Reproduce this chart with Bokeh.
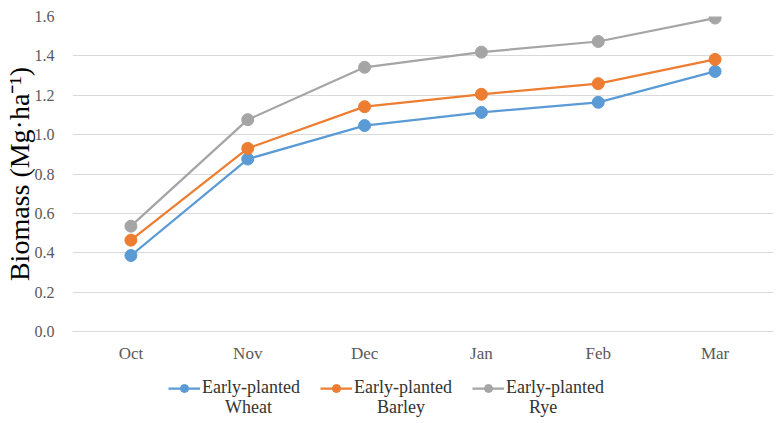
from bokeh.plotting import figure
from bokeh.layouts import column
from bokeh.models import FactorRange, Range1d, SingleIntervalTicker, NumeralTickFormatter, Legend, LegendItem
from bokeh.embed import file_html
from bokeh.resources import INLINE

months = ["Oct", "Nov", "Dec", "Jan", "Feb", "Mar"]
wheat = [0.386, 0.876, 1.046, 1.113, 1.164, 1.321]
barley = [0.464, 0.930, 1.142, 1.205, 1.259, 1.382]
rye = [0.535, 1.076, 1.342, 1.419, 1.473, 1.592]
legend_prefix = "Early-planted"
crop_names = ["Wheat", "Barley", "Rye"]
colors = ["#5B9BD5", "#ED7D31", "#A5A5A5"]

FONT = "Liberation Serif"

p = figure(x_range=FactorRange(*months), y_range=Range1d(0, 1.6),
           frame_width=701, frame_height=315, output_backend="svg", toolbar_location=None,
           min_border_left=72, min_border_right=5, min_border_top=16, min_border_bottom=32)
p.outline_line_color = None
p.background_fill_color = "white"
p.border_fill_color = "white"

for vals, c in zip([wheat, barley, rye], colors):
    p.line(months, vals, line_color=c, line_width=2.25)
    p.scatter(months, vals, size=12, fill_color=c, line_color=c)

p.yaxis.ticker = SingleIntervalTicker(interval=0.2)
p.yaxis.formatter = NumeralTickFormatter(format="0.0")
p.yaxis.axis_line_color = None
p.yaxis.major_tick_line_color = None
p.yaxis.minor_tick_line_color = None
p.yaxis.major_tick_out = 0
p.yaxis.major_tick_in = 0
p.yaxis.major_label_text_font = FONT
p.yaxis.major_label_text_font_size = "16px"
p.yaxis.major_label_text_color = "#595959"
p.yaxis.major_label_standoff = 14
p.yaxis.axis_label = "Biomass (Mg·ha⁻¹)"
p.yaxis.axis_label_text_font = FONT
p.yaxis.axis_label_text_font_size = "28px"
p.yaxis.axis_label_text_font_style = "normal"
p.yaxis.axis_label_text_color = "#000000"
p.yaxis.axis_label_standoff = -3

p.xaxis.axis_line_color = "#D9D9D9"
p.xaxis.major_tick_line_color = None
p.xaxis.minor_tick_line_color = None
p.xaxis.major_tick_out = 0
p.xaxis.major_tick_in = 0
p.xaxis.major_label_text_font = FONT
p.xaxis.major_label_text_font_size = "17px"
p.xaxis.major_label_text_color = "#595959"
p.xaxis.major_label_standoff = 12

p.xgrid.grid_line_color = None
p.ygrid.grid_line_color = "#D9D9D9"
p.ygrid.grid_line_width = 1

# legend figure below the chart
lg = figure(width=778, height=60, x_range=Range1d(0, 1), y_range=Range1d(0, 1),
            output_backend="svg", toolbar_location=None,
            x_axis_location=None, y_axis_location=None, min_border=0)
lg.outline_line_color = None
lg.grid.grid_line_color = None
nan = float("nan")
items_top, items_bottom = [], []
for name, c in zip(crop_names, colors):
    l = lg.line([nan], [nan], line_color=c, line_width=2.25)
    s = lg.scatter([nan], [nan], size=11, fill_color=c, line_color=c)
    items_top.append(LegendItem(label=legend_prefix, renderers=[l, s], index=0))
    h = lg.line([nan], [nan], line_alpha=0)
    items_bottom.append(LegendItem(label=name, renderers=[h], index=0))

common = dict(orientation="horizontal", label_text_font=FONT, label_text_font_size="18px",
              label_text_color="#333333", glyph_width=32, glyph_height=20,
              label_standoff=2, label_width=98, spacing=20, border_line_color=None,
              background_fill_alpha=0, padding=0, margin=0)
legend_top = Legend(items=items_top, location=(96, 27), **common)
legend_bottom = Legend(items=items_bottom, location=(119, 7), **common)
lg.add_layout(legend_top, "center")
lg.add_layout(legend_bottom, "center")

layout = column(p, lg, spacing=0)
open("out.html", "w").write(file_html(layout, INLINE))
